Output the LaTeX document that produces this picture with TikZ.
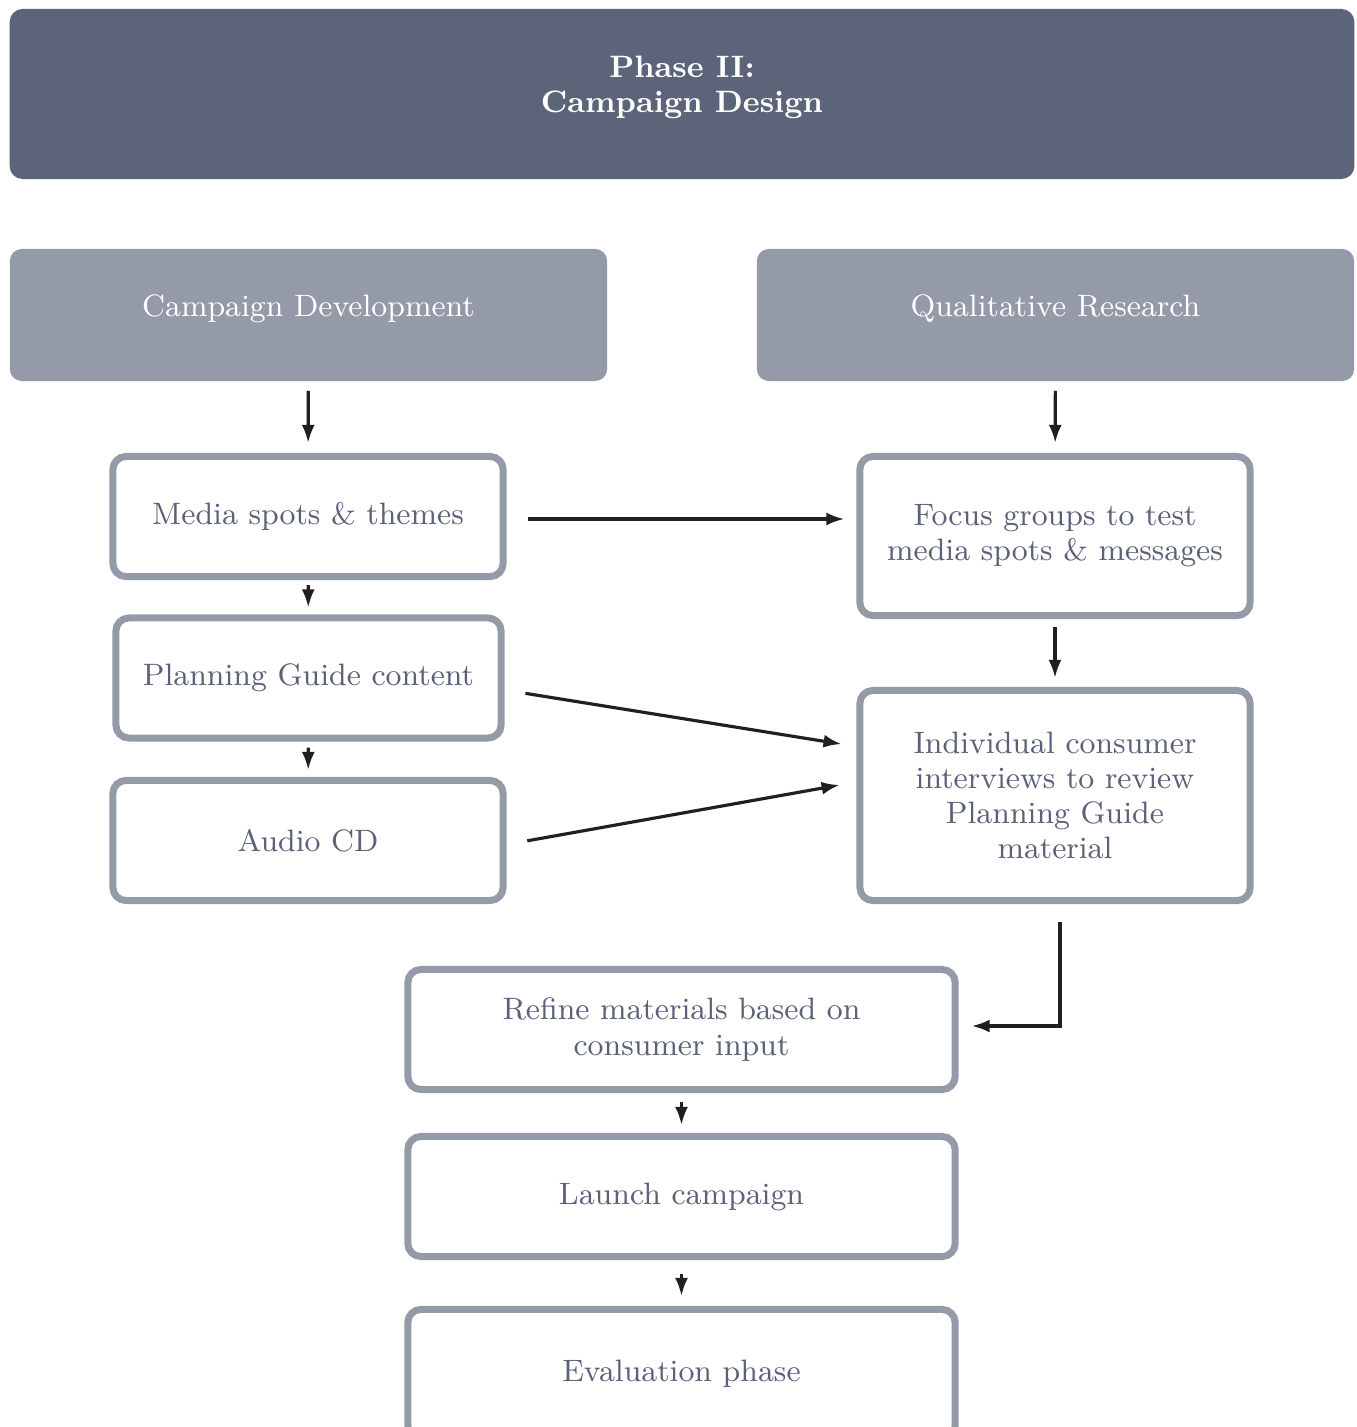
\documentclass[tikz,border=0pt]{standalone}
\usetikzlibrary{arrows.meta}
\usetikzlibrary{positioning}

\definecolor{phasedark}{HTML}{5C6479}
\definecolor{phaselight}{HTML}{959AA8}
\definecolor{boxgray}{HTML}{959AA8}
\definecolor{boxtext}{HTML}{5A6178}
\definecolor{arrowink}{HTML}{231F20}

\tikzset{
  phasebox/.style={fill=phasedark, text=white, rounded corners=0.13cm, align=center,
    font=\fontsize{8.8}{10}\selectfont\bfseries, text depth=0.2cm,
    minimum width=13.44cm, minimum height=1.70cm},
  headbox/.style={fill=phaselight, text=white, rounded corners=0.12cm, align=center,
    font=\fontsize{8.8}{10}\selectfont, text depth=0.18cm,
    minimum width=5.97cm, minimum height=1.32cm},
  stepbox/.style={draw=boxgray, line width=0.07cm, rounded corners=0.13cm, fill=white,
    text=boxtext, align=center, font=\fontsize{8.8}{10}\selectfont,
    minimum width=3.90cm, minimum height=1.20cm},
  flow/.style={draw=arrowink, line width=0.9pt, -{Latex[length=0.18cm,width=0.13cm]}}
}

\begin{document}
\begin{tikzpicture}[x=0.01cm,y=-0.01cm]

\clip (0,0) rectangle (1356,1427);

% headers
\node[phasebox] (phase) at (682,94) {Phase II:\\Campaign Design};
\node[headbox] (cdev) at (308.5,315) {Campaign Development};
\node[headbox] (qres) at (1055.5,315) {Qualitative Research};

% left column
\node[stepbox] (media) at (308,516.5) {Media spots \& themes};
\node[stepbox, minimum width=3.85cm] (plan) at (308.5,678) {Planning Guide content};
\node[stepbox] (audio) at (308,840.5) {Audio CD};

% right column
\node[stepbox, minimum height=1.59cm] (focus) at (1055,536) {Focus groups to test\\media spots \& messages};
\node[stepbox, minimum height=2.10cm] (indiv) at (1055,795.5) {Individual consumer\\interviews to review\\Planning Guide\\material};

% bottom
\node[stepbox, minimum width=5.47cm] (refine) at (681.5,1029.5) {Refine materials based on\\consumer input};
\node[stepbox, minimum width=5.47cm] (launch) at (681.5,1196.5) {Launch campaign};
\node[stepbox, minimum width=5.47cm, minimum height=1.29cm] (eval) at (681.5,1374) {Evaluation phase};

\draw[flow, shorten <=0.09cm, shorten >=0.10cm] (cdev) -- (media);
\draw[flow, shorten <=0.09cm, shorten >=0.10cm] (qres) -- (focus);
\draw[flow, shorten <=0.05cm, shorten >=0.07cm] (media) -- (plan);
\draw[flow, shorten <=0.06cm, shorten >=0.07cm] (plan) -- (audio);
\draw[flow, shorten <=0.21cm, shorten >=0.12cm] ([yshift=-0.025cm]media.east) -- ([yshift=-0.025cm]media.east -| focus.west);
\draw[flow, shorten <=0.21cm, shorten >=0.15cm] ([yshift=-0.12cm]plan.east) -- ([yshift=0.49cm]indiv.west);
\draw[flow, shorten <=0.21cm, shorten >=0.17cm] ([yshift=-0.04cm]audio.east) -- ([yshift=0.135cm]indiv.west);
\draw[flow, shorten <=0.08cm, shorten >=0.09cm] (focus) -- (indiv);
\draw[flow, shorten <=0.18cm, shorten >=0.13cm] ([xshift=0.05cm]indiv.south) |- ([yshift=0.035cm]refine.east);
\draw[flow, shorten <=0.09cm, shorten >=0.08cm] (refine) -- (launch);
\draw[flow, shorten <=0.14cm, shorten >=0.10cm] (launch) -- (eval);

\end{tikzpicture}
\end{document}
